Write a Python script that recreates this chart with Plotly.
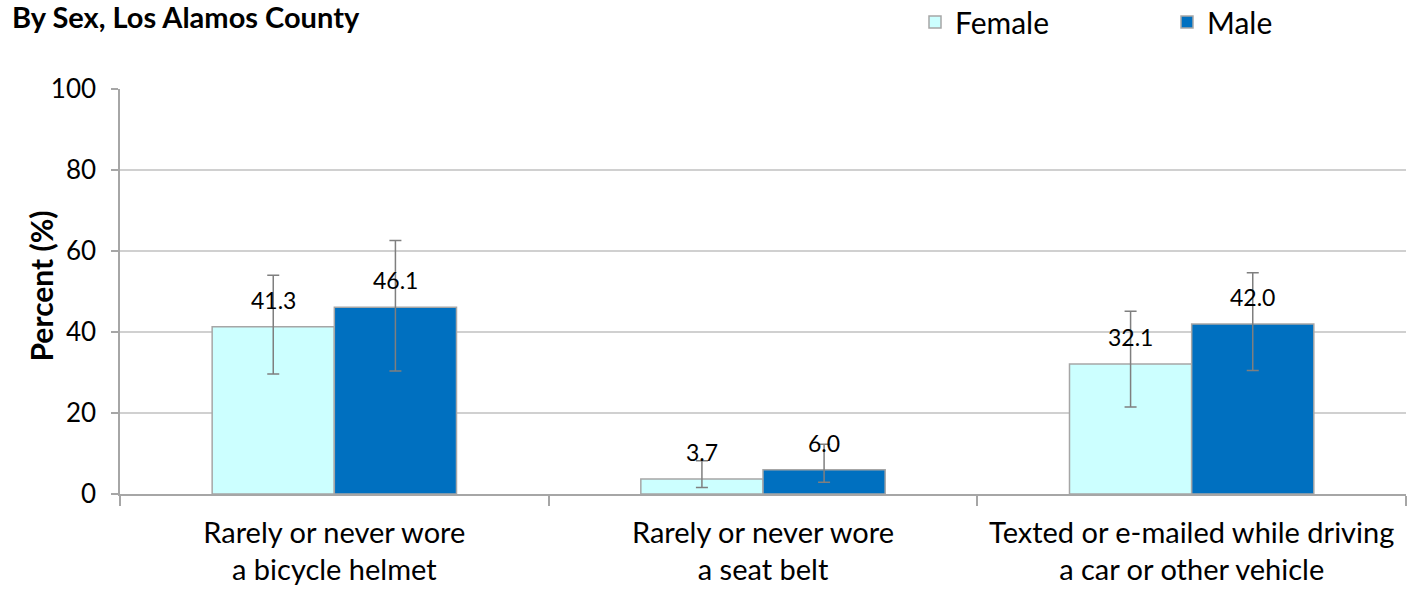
import plotly.graph_objects as go

# data
categories = ["Rarely or never wore<br>a bicycle helmet",
              "Rarely or never wore<br>a seat belt",
              "Texted or e-mailed while driving<br>a car or other vehicle"]
female = [41.3, 3.7, 32.1]
female_upper = [54.0, 8.2, 45.1]
female_lower = [29.6, 1.6, 21.5]
male = [46.1, 6.0, 42.0]
male_upper = [62.6, 12.3, 54.6]
male_lower = [30.4, 2.9, 30.5]
y_ticks = [0, 20, 40, 60, 80, 100]

FONT = "Lato"
GRAY = "#a6a6a6"
W, H = 1411, 592
ML, MR = 120, 5


def err(vals, up, lo):
    return dict(type="data", symmetric=False,
                array=[u - v for v, u in zip(vals, up)],
                arrayminus=[v - l for v, l in zip(vals, lo)],
                color="#7f7f7f", thickness=1.5, width=6)


fig = go.Figure()
fig.add_trace(go.Bar(x=categories, y=female, name="Female", legend="legend",
                     showlegend=True,
                     marker=dict(color="#ccffff", line=dict(color=GRAY, width=1.5)),
                     error_y=err(female, female_upper, female_lower)))
fig.add_trace(go.Bar(x=categories, y=male, name="Male", legend="legend2",
                     showlegend=True,
                     marker=dict(color="#0070c0", line=dict(color=GRAY, width=1.5)),
                     error_y=err(male, male_upper, male_lower)))

# value labels, placed above each bar
annotations = []
for vals, shift in ((female, -61), (male, 61)):
    for c, v in zip(categories, vals):
        annotations.append(dict(x=c, y=v, text=f"{v:.1f}", showarrow=False,
                                xshift=shift, yshift=27, yanchor="middle",
                                font=dict(family=FONT, size=23, color="#000")))

# y-axis title as a rotated annotation so it can sit closer to the tick labels
annotations.append(dict(text="<b>Percent (%)</b>", textangle=-90, showarrow=False,
                        xref="paper", yref="paper", x=(40 - ML) / (W - ML - MR),
                        y=0.5, yshift=5, xanchor="center", yanchor="middle",
                        font=dict(family=FONT, size=30, color="#000")))

legend_style = dict(orientation="h", xanchor="left", yanchor="middle",
                    xref="container", yref="container", visible=True,
                    font=dict(family=FONT, size=30), bgcolor="rgba(0,0,0,0)")

fig.update_layout(
    width=W, height=H,
    margin=dict(l=ML, r=MR, t=89, b=98, autoexpand=False),
    plot_bgcolor="white", paper_bgcolor="white",
    barmode="group", bargap=0.43, bargroupgap=0,
    font=dict(family=FONT, color="#000"),
    title=dict(text="<b>By Sex, Los Alamos County</b>", x=12 / W, xanchor="left",
               y=1 - 8 / H, yanchor="top", yref="container",
               font=dict(family=FONT, size=29, color="#000")),
    showlegend=True,
    legend=dict(x=(955 - 40) / W, y=1 - 22 / H, **legend_style),
    legend2=dict(x=(1207 - 40) / W, y=1 - 22 / H, **legend_style),
    annotations=annotations,
    hovermode=False,
)

fig.update_xaxes(showline=True, linecolor=GRAY, linewidth=1.5, automargin=False,
                 ticks="outside", tickson="boundaries", ticklen=10, tickangle=0,
                 tickcolor=GRAY, tickwidth=1.5, ticklabelstandoff=12,
                 tickfont=dict(family=FONT, size=29), showgrid=False)
fig.update_yaxes(range=[0, 100], tickvals=y_ticks, showline=True, automargin=False,
                 linecolor=GRAY, linewidth=1.5, ticks="outside", ticklen=7,
                 tickcolor=GRAY, tickwidth=1.5, showgrid=True, ticklabelstandoff=10,
                 gridcolor="#d0d0d0", gridwidth=1.5, zeroline=False,
                 tickfont=dict(family=FONT, size=26))

# the page body has a default 8px margin; drop it so the figure sits at 0,0
fig.write_html("out.html", config={"displayModeBar": False},
               post_script="document.body.style.margin='0';")
